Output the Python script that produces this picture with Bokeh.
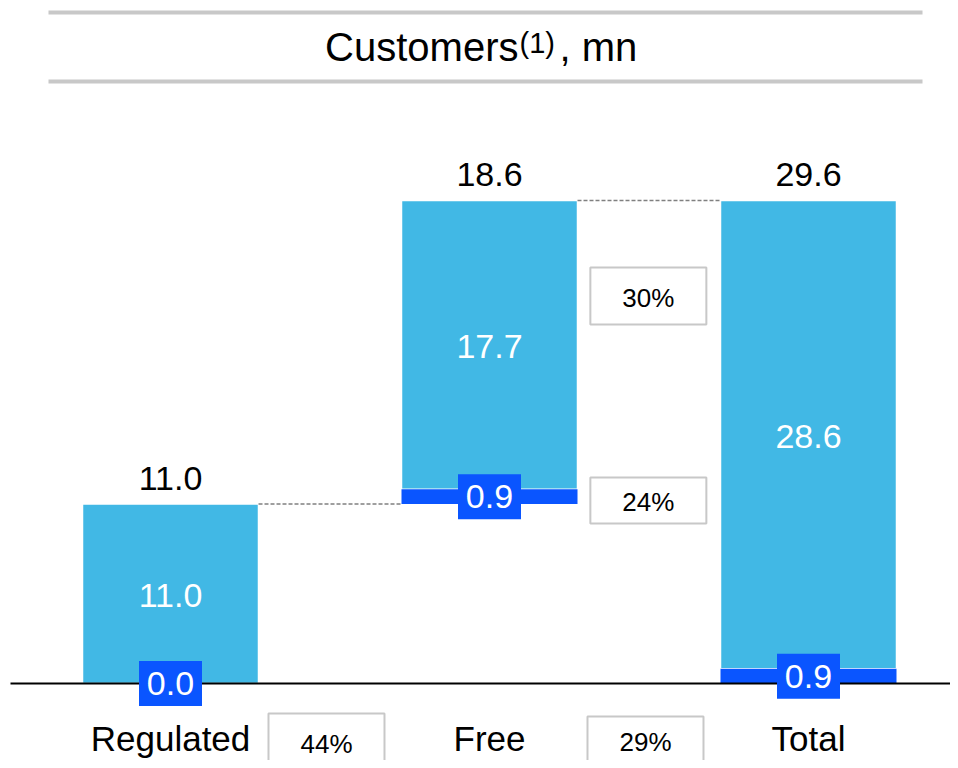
from bokeh.plotting import figure
from bokeh.models import Range1d, Label, ColumnDataSource
from bokeh.embed import file_html
from bokeh.resources import INLINE
from bokeh.core.properties import value

# ---------------- data ----------------
categories = ["Regulated", "Free", "Total"]
dark_values = [0.0, 0.9, 0.9]        # dark-blue bottom segment
light_values = [11.0, 17.7, 28.6]    # light-blue segment
bar_totals = [11.0, 18.6, 29.6]      # label above each bar
bar_bases = [0.0, 11.0, 0.0]         # waterfall floating base
bottom_pct = ["44%", "29%"]          # boxes between category labels
side_pct = ["30%", "24%"]            # boxes beside the Free bar (upper, lower)

# ---------------- layout ----------------
W, H = 950, 760
PXU = 16.318          # pixels per unit on y
STEP = 319.0          # pixels between category centers
C0 = 170.0            # first category center (px)
BASE_PX = 683.0       # baseline (px from top)
BAR_W = 176.0 / STEP

def fx(px):
    return (px - C0) / STEP

def fy(py):
    return (BASE_PX - py) / PXU

FONT = value("Liberation Sans")
LIGHT = "#41B8E5"
DARK = "#0A55FF"
GREY = "#C8C8C8"

p = figure(width=W, height=H, output_backend="svg", toolbar_location=None,
           x_range=Range1d(fx(0), fx(W)), y_range=Range1d(fy(H), fy(0)),
           min_border=0, outline_line_color=None)
p.xaxis.visible = False
p.yaxis.visible = False
p.grid.visible = False

xs = list(range(len(categories)))
dark_top = [b + d for b, d in zip(bar_bases, dark_values)]
light_top = [b + t for b, t in zip(bar_bases, bar_totals)]
dmid = [(a + b) / 2 for a, b in zip(bar_bases, dark_top)]
lmid = [(a + b) / 2 for a, b in zip(dark_top, light_top)]

src = ColumnDataSource(dict(
    x=xs, cat=categories, base=bar_bases, dtop=dark_top, ltop=light_top,
    dmid=dmid, lmid=lmid,
    top_y=[t + 25.5 / PXU for t in light_top],
    lab_y=[m - 1.5 / PXU for m in lmid],
    cat_y=[fy(738)] * len(categories),
    dlab=[f"{v:.1f}" for v in dark_values],
    llab=[f"{v:.1f}" for v in light_values],
    tlab=[f"{v:.1f}" for v in bar_totals],
))

# bars
p.vbar(x="x", bottom="dtop", top="ltop", width=BAR_W, source=src,
       fill_color=LIGHT, line_color="white", line_width=1.5)
p.vbar(x="x", bottom="base", top="dtop", width=BAR_W, source=src,
       fill_color=DARK, line_color=None)

# baseline
p.segment(x0=[fx(10)], x1=[fx(W)], y0=[0], y1=[0], line_color="black", line_width=2)

# dashed connectors
cx0 = [xs[0] + BAR_W / 2, xs[1] + BAR_W / 2]
cx1 = [xs[1] - BAR_W / 2, xs[2] - BAR_W / 2]
cy = [light_top[0], light_top[1]]
p.segment(x0=cx0, x1=cx1, y0=cy, y1=cy, line_color="#808080",
          line_width=1.5, line_dash="4 2")

# title lines
p.segment(x0=[fx(48), fx(48)], x1=[fx(922), fx(922)], y0=[fy(12), fy(81)],
          y1=[fy(12), fy(81)], line_color=GREY, line_width=4)

TXT = dict(text_font=FONT, text_align="center", text_baseline="middle")

# labels above bars
p.text(x="x", y="top_y", text="tlab", source=src, text_font_size="34px",
       text_color="black", **TXT)

# labels inside light segments
p.text(x="x", y="lab_y", text="llab", source=src, text_font_size="34px",
       text_color="white", **TXT)

# dark segment label boxes
p.rect(x="x", y="dmid", width=63, height=45, width_units="screen",
       height_units="screen", source=src, fill_color=DARK, line_color=None)
p.text(x="x", y="dmid", text="dlab", source=src, text_font_size="34px",
       text_color="white", **TXT)

# category labels
p.text(x="x", y="cat_y", text="cat", source=src, text_font_size="35px",
       text_color="black", **TXT)

# percentage boxes
box_x = [xs[0] + 0.489, xs[1] + 0.489, xs[1] + 0.498, xs[1] + 0.498]
box_cy = [741.5, 740.5, 295.5, 500.0]
box_ty = [743.5, 741.5, 297.0, 501.0]
box_h = [57, 49, 57, 46]
box_txt = bottom_pct + side_pct
p.rect(x=box_x, y=[fy(c) for c in box_cy], width=116, height=box_h,
       width_units="screen", height_units="screen",
       fill_color="white", line_color=GREY, line_width=2)
p.text(x=box_x, y=[fy(c) for c in box_ty], text=box_txt, text_font_size="26px",
       text_color="black", **TXT)

# title
p.add_layout(Label(x=518, y=H - 46.5, x_units="screen", y_units="screen",
                   text="Customers", text_align="right", text_baseline="middle",
                   text_font="Liberation Sans", text_font_size="40px", text_color="black"))
p.add_layout(Label(x=519, y=H - 42, x_units="screen", y_units="screen",
                   text="(1)", text_align="left", text_baseline="middle",
                   text_font="Liberation Sans", text_font_size="29px", text_color="black"))
p.add_layout(Label(x=559, y=H - 46.5, x_units="screen", y_units="screen",
                   text=", mn", text_align="left", text_baseline="middle",
                   text_font="Liberation Sans", text_font_size="40px", text_color="black"))

open("out.html", "w").write(file_html(p, INLINE))
